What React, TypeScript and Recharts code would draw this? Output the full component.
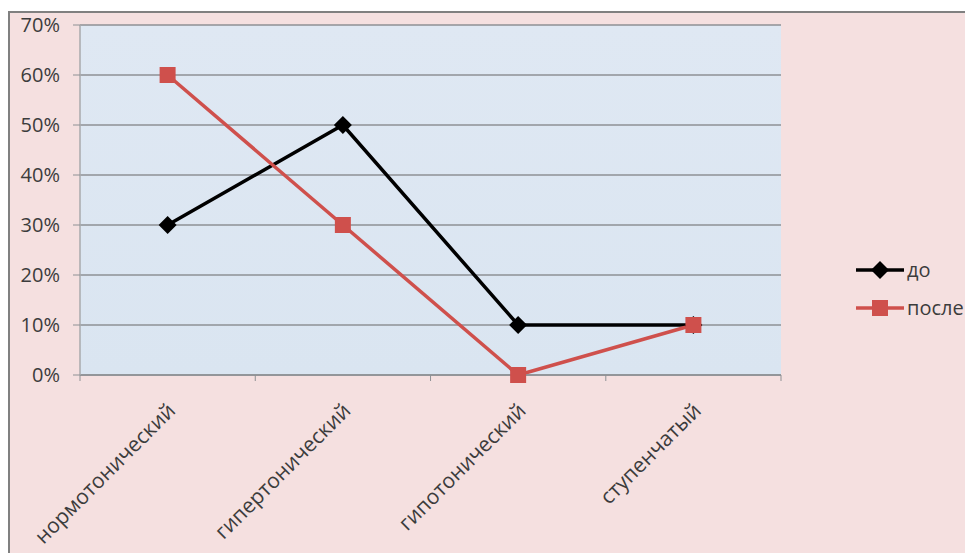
import { CartesianGrid, Legend, Line, LineChart, XAxis, YAxis } from "recharts";

// chart values (shares, 0..1)
const categories = ["нормотонический", "гипертонический", "гипотонический", "ступенчатый"];
const before = [0.3, 0.5, 0.1, 0.1];
const after = [0.6, 0.3, 0.0, 0.1];
const yTicks = [0, 0.1, 0.2, 0.3, 0.4, 0.5, 0.6, 0.7];
const seriesNames = ["до", "после"];

const rows = categories.map((name, i) => ({ name, before: before[i], after: after[i] }));

const FONT = "'Open Sans', 'Noto Sans', sans-serif";
const TEXT = "#3c3c3c";
const RED = "#cf504c";
const GRID = "#8e9194";
const HALF_BAND = 87.6;

function pct(v: number) {
  return `${Math.round(v * 100)}%`;
}

function CategoryTick(props: any) {
  const { x, y, payload, index } = props;
  const last = index === categories.length - 1;
  const tx = x + 9;
  const ty = y + 37;
  return (
    <g>
      <line x1={x - HALF_BAND} x2={x - HALF_BAND} y1={y} y2={y + 6} stroke={GRID} strokeWidth={1} />
      {last && <line x1={x + HALF_BAND} x2={x + HALF_BAND} y1={y} y2={y + 6} stroke={GRID} strokeWidth={1} />}
      <text
        x={tx}
        y={ty}
        transform={`rotate(-45, ${tx}, ${ty})`}
        textAnchor="end"
        fontSize={21}
        fontFamily={FONT}
        fill={TEXT}
      >
        {payload.value}
      </text>
    </g>
  );
}

function Diamond(props: any) {
  const { cx, cy, index } = props;
  if (cx == null || cy == null) return <g key={`d-${index}`} />;
  const r = 9;
  return (
    <path
      key={`d-${index}`}
      d={`M${cx},${cy - r} L${cx + r},${cy} L${cx},${cy + r} L${cx - r},${cy} Z`}
      fill="#000"
    />
  );
}

function Square(props: any) {
  const { cx, cy, index } = props;
  if (cx == null || cy == null) return <g key={`s-${index}`} />;
  const s = 16;
  return <rect key={`s-${index}`} x={cx - s / 2} y={cy - s / 2} width={s} height={s} fill={RED} />;
}

function LegendBox() {
  const items = [
    { label: seriesNames[0], color: "#000", marker: "diamond" },
    { label: seriesNames[1], color: RED, marker: "square" },
  ];
  return (
    <div style={{ fontFamily: FONT, fontSize: 20, color: TEXT }}>
      {items.map((it) => (
        <div key={it.label} style={{ display: "flex", alignItems: "center", height: 38 }}>
          <svg width={48} height={20} style={{ marginRight: 3 }}>
            <line x1={0} x2={48} y1={10} y2={10} stroke={it.color} strokeWidth={3.5} />
            {it.marker === "diamond" ? (
              <path d="M24,1 L33,10 L24,19 L15,10 Z" fill={it.color} />
            ) : (
              <rect x={16} y={2} width={16} height={16} fill={it.color} />
            )}
          </svg>
          <span style={{ lineHeight: 1 }}>{it.label}</span>
        </div>
      ))}
    </div>
  );
}

export default function App() {
  return (
    <div
      style={{
        marginTop: 3,
        width: 963,
        height: 540,
        background: "#f5e0e0",
        borderLeft: "2px solid #808080",
        borderTop: "2px solid #808080",
      }}
    >
      <LineChart
        width={963}
        height={540}
        data={rows}
        margin={{ top: 12, right: 192, left: 0, bottom: 0 }}
        style={{ overflow: "visible" }}
      >
        <defs>
          <linearGradient id="plotBg" x1="0" y1="0" x2="0" y2="1">
            <stop offset="0%" stopColor="#dfe8f3" />
            <stop offset="100%" stopColor="#dae5f1" />
          </linearGradient>
        </defs>
        <CartesianGrid vertical={false} stroke={GRID} strokeWidth={1.5} fill="url(#plotBg)" />
        <XAxis
          dataKey="name"
          padding={{ left: HALF_BAND, right: HALF_BAND }}
          height={178}
          interval={0}
          tickLine={false}
          tickSize={0}
          tickMargin={0}
          axisLine={{ stroke: GRID, strokeWidth: 1.5 }}
          tick={<CategoryTick />}
        />
        <YAxis
          width={70}
          domain={[0, 0.7]}
          ticks={yTicks}
          tickFormatter={pct}
          tickSize={7}
          tickMargin={13}
          axisLine={{ stroke: "#a9aaad", strokeWidth: 1.5 }}
          tickLine={{ stroke: GRID }}
          tick={{ fontSize: 20, fontFamily: FONT, fill: TEXT }}
        />
        <Legend
          layout="horizontal"
          verticalAlign="middle"
          align="center"
          content={<LegendBox />}
          wrapperStyle={{ left: 846, top: 238, width: 120 }}
        />
        <Line
          dataKey="before"
          name={seriesNames[0]}
          stroke="#000"
          strokeWidth={3.5}
          dot={Diamond}
          activeDot={false}
          isAnimationActive={false}
        />
        <Line
          dataKey="after"
          name={seriesNames[1]}
          stroke={RED}
          strokeWidth={3.5}
          dot={Square}
          activeDot={false}
          isAnimationActive={false}
        />
      </LineChart>
    </div>
  );
}
